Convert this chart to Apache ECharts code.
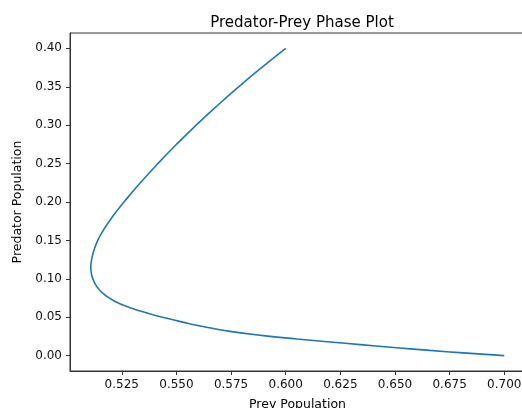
<!DOCTYPE html>
<html>
<head>
<meta charset="utf-8">
<script src="https://cdn.jsdelivr.net/npm/echarts@6/dist/echarts.min.js"></script>
<style>
  html, body { margin: 0; padding: 0; background: #fff; }
  #chart { width: 522px; height: 408px; }
</style>
</head>
<body>
<div id="chart"></div>
<script>
// prey / predator pairs, top end first
const prey = [0.6000, 0.5890, 0.5785, 0.5685, 0.5590, 0.5500, 0.5415, 0.5335, 0.5260, 0.5225,
  0.5193, 0.5164, 0.5140, 0.5123, 0.5112, 0.5108, 0.5112, 0.5125, 0.5148, 0.5180,
  0.5220, 0.5270, 0.5330, 0.5400, 0.5480, 0.5560, 0.5650, 0.5745, 0.5898, 0.6051,
  0.6203, 0.6341, 0.6509, 0.6660, 0.6812, 0.7000];
const predator = [0.400, 0.375, 0.350, 0.325, 0.300, 0.275, 0.250, 0.225, 0.200, 0.1875,
  0.175, 0.1625, 0.150, 0.1375, 0.125, 0.115, 0.105, 0.095, 0.0855, 0.0775,
  0.0705, 0.0642, 0.0585, 0.0527, 0.0470, 0.0415, 0.0362, 0.0316, 0.0260, 0.0217,
  0.0178, 0.0143, 0.0102, 0.0068, 0.0036, 0.0000];
const xTicks = [0.525, 0.550, 0.575, 0.600, 0.625, 0.650, 0.675, 0.700];
const yTicks = [0.00, 0.05, 0.10, 0.15, 0.20, 0.25, 0.30, 0.35, 0.40];

const chart = echarts.init(document.getElementById('chart'));
const font = 'DejaVu Sans';

chart.setOption({
  animation: false,
  title: {
    text: 'Predator-Prey Phase Plot',
    left: 297,
    textAlign: 'center',
    top: 11,
    textStyle: { fontFamily: font, fontSize: 15, fontWeight: 'normal', color: '#000' }
  },
  grid: {
    left: 70, right: -3, top: 33, bottom: 37,
    outerBoundsMode: 'none',
    containLabel: false,
    show: true, borderColor: '#333', borderWidth: 1
  },
  xAxis: {
    type: 'value',
    min: 0.5013, max: 0.7095,
    name: 'Prey Population',
    nameLocation: 'middle',
    nameGap: 27,
    nameTextStyle: { fontFamily: font, fontSize: 12.5, color: '#000', verticalAlign: 'top' },
    axisLine: { show: true, onZero: false, lineStyle: { color: '#333', width: 1 } },
    axisTick: { show: true, length: 4, customValues: xTicks, lineStyle: { color: '#333' } },
    axisLabel: {
      customValues: xTicks, margin: 8,
      fontFamily: font, fontSize: 12, color: '#111',
      formatter: v => v.toFixed(3)
    },
    splitLine: { show: false }
  },
  yAxis: {
    type: 'value',
    min: -0.02, max: 0.42,
    name: 'Predator Population',
    nameLocation: 'middle',
    nameGap: 44,
    nameTextStyle: { fontFamily: font, fontSize: 12.5, color: '#000' },
    axisLine: { show: true, onZero: false, lineStyle: { color: '#333', width: 1 } },
    axisTick: { show: true, length: 4, customValues: yTicks, lineStyle: { color: '#333' } },
    axisLabel: {
      customValues: yTicks, margin: 8,
      fontFamily: font, fontSize: 12, color: '#111',
      formatter: v => v.toFixed(2)
    },
    splitLine: { show: false }
  },
  series: [{
    type: 'line',
    data: prey.map((p, i) => [p, predator[i]]),
    showSymbol: false,
    smooth: 0.5,
    lineStyle: { color: '#1f77b4', width: 1.6 }
  }]
});
</script>
</body>
</html>
